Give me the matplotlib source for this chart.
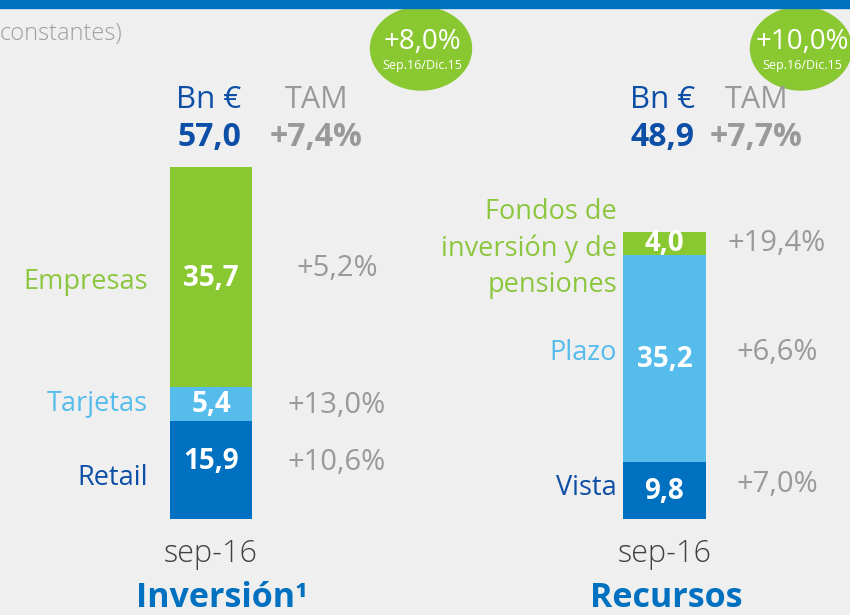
import matplotlib.pyplot as plt
from matplotlib.patches import Ellipse, Rectangle
from matplotlib.transforms import blended_transform_factory

plt.rcParams['font.family'] = ['Open Sans', 'DejaVu Sans']

# data
inv_cats = ['Retail', 'Tarjetas', 'Empresas']
inv_vals = [15.9, 5.4, 35.7]
inv_growth = ['+10,6%', '+13,0%', '+5,2%']
inv_total = '57,0'
inv_tam = '+7,4%'
inv_ytd = '+8,0%'

rec_cats = ['Vista', 'Plazo', 'Fondos de\ninversión y de\npensiones']
rec_vals = [9.8, 35.2, 4.0]
rec_growth = ['+7,0%', '+6,6%', '+19,4%']
rec_total = '48,9'
rec_tam = '+7,7%'
rec_ytd = '+10,0%'

period = 'sep-16'
ytd_period = 'Sep.16/Dic.15'

# colours
BG = '#efefef'
DARK = '#0070c0'
LIGHT = '#55bcec'
GREEN = '#8ac832'
NAVY = '#0d4ea6'
GREY = '#999999'
seg_colors = [DARK, LIGHT, GREEN]
lab_colors = [NAVY, LIGHT, '#8cc63f']

W, H = 850, 615
fig = plt.figure(figsize=(8.5, 6.15), dpi=100, facecolor=BG)

# overlay in pixel coordinates for decoration
ax0 = fig.add_axes([0, 0, 1, 1])
ax0.set_xlim(0, W)
ax0.set_ylim(H, 0)
ax0.axis('off')
ax0.set_zorder(0)

ax0.add_patch(Rectangle((0, 0), W, 8, color=DARK, zorder=5))
ax0.text(0, 34, 'constantes)', fontsize=17, color='#a0a0a0', fontweight='light',
         ha='left', va='center')


def bar_block(left, width, height_px, vals, cats, growth, total, tam, ytd,
              ytd_x, cat_x, grow_x, title, title_x, cat_dy, val_dy, grow_dy):
    bottom = 519
    ax = fig.add_axes([left / W, (H - bottom) / H, width / W, height_px / H])
    ax.set_xlim(-0.5, 0.5)
    ax.set_ylim(0, sum(vals))
    ax.axis('off')
    ax.set_zorder(2)
    cx = left + width / 2
    tr = blended_transform_factory(ax0.transData, ax.transData)

    base = 0
    for i, (v, c, cat, g, lc) in enumerate(zip(vals, seg_colors, cats, growth, lab_colors)):
        ax.bar(0, v, bottom=base, width=1.0, color=c, linewidth=0)
        mid = base + v / 2
        ax.annotate(f'{v:.1f}'.replace('.', ','), (cx, mid), xycoords=tr,
                    xytext=(0, -val_dy[i]), textcoords='offset pixels',
                    fontsize=20, fontweight='bold', color='white',
                    ha='center', va='center')
        ax.annotate(cat, (cat_x, mid), xycoords=tr,
                    xytext=(0, -cat_dy[i]), textcoords='offset pixels',
                    fontsize=19.5, color=lc, ha='right', va='center',
                    multialignment='right', linespacing=1.38, annotation_clip=False)
        ax.annotate(g, (grow_x, mid), xycoords=tr,
                    xytext=(0, -grow_dy[i]), textcoords='offset pixels',
                    fontsize=21, color=GREY, ha='center', va='center',
                    annotation_clip=False)
        base += v

    # header
    ax0.text(cx - 2, 100, 'Bn €', fontsize=22.5, color=NAVY, ha='center', va='center')
    ax0.text(grow_x - 20, 100, 'TAM', fontsize=22, color=GREY, ha='center', va='center')
    ax0.text(cx - 2, 137, total, fontsize=23, fontweight='bold', color=NAVY,
             ha='center', va='center')
    ax0.text(grow_x - 21, 137, tam, fontsize=23, fontweight='bold', color=GREY,
             ha='center', va='center')

    # green bubble
    ax0.add_patch(Ellipse((ytd_x, 48.5), 101, 83, color=GREEN, zorder=2))
    ax0.text(ytd_x + 1, 42, ytd, fontsize=20, color='white', ha='center',
             va='center', zorder=3)
    ax0.text(ytd_x + 1, 65, ytd_period, fontsize=9, color='white',
             ha='center', va='center', zorder=3)

    # bottom labels
    ax0.text(cx, 554, period, fontsize=22, color='#404040', fontweight='light',
             ha='center', va='center')
    ax0.text(title_x, 598, title, fontsize=24.5, fontweight='bold', color=DARK,
             ha='center', va='center')


bar_block(170, 82, 352, inv_vals, inv_cats, inv_growth, inv_total, inv_tam,
          inv_ytd, 421, 148, 337, 'Inversión¹', 222,
          cat_dy=[8, 0, 5], val_dy=[-8, 0, 1], grow_dy=[-7, 1, -9])
bar_block(623, 83, 287, rec_vals, rec_cats, rec_growth, rec_total, rec_tam,
          rec_ytd, 801, 617, 777, 'Recursos', 666,
          cat_dy=[-2, -6, 5], val_dy=[1, 1, 0], grow_dy=[-6, -6, 0])

fig.savefig('out.png', dpi=100, facecolor=BG)
